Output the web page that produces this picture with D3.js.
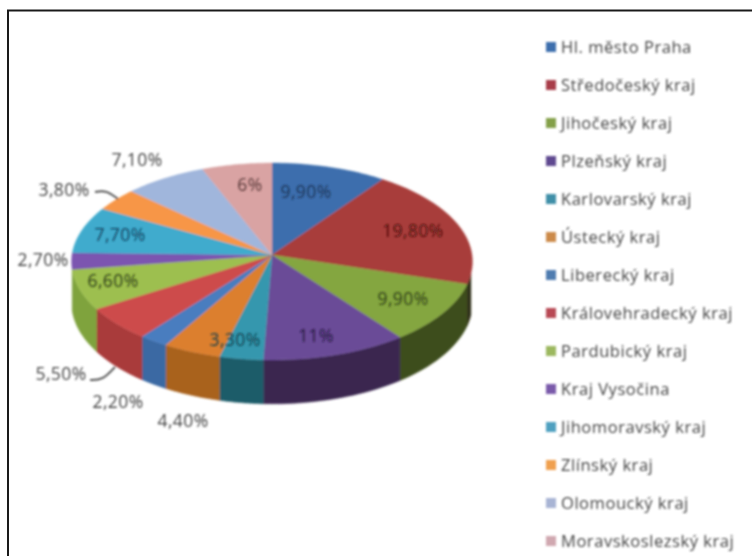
<!DOCTYPE html>
<html><head><meta charset="utf-8">
<script src="https://cdn.jsdelivr.net/npm/d3@7"></script>
<style>html,body{margin:0;padding:0;background:#fff;overflow:hidden}svg{display:block}text{font-family:"Open Sans",sans-serif}</style>
</head><body><svg id="c" width="752" height="556"></svg>
<script>
const categories=["Hl. město Praha","Středočeský kraj","Jihočeský kraj","Plzeňský kraj","Karlovarský kraj","Ústecký kraj","Liberecký kraj","Královehradecký kraj","Pardubický kraj","Kraj Vysočina","Jihomoravský kraj","Zlínský kraj","Olomoucký kraj","Moravskoslezský kraj"];
const values=[9.9,19.8,9.9,11,3.3,4.4,2.2,5.5,6.6,2.7,7.7,3.8,7.1,6];
const valueLabels=["9,90%","19,80%","9,90%","11%","3,30%","4,40%","2,20%","5,50%","6,60%","2,70%","7,70%","3,80%","7,10%","6%"];
const topColors=["#3c6ead","#a83c3a","#84a63f","#6a4b97","#3497ae","#dc7f2e","#4a7dbf","#cd4c4c","#9dbf4f","#7c55b0","#3fabcd","#f79646","#a0b6dc","#d9a3a3"];
const sideColors=["#2c5384","#33301a","#3e4d1f","#3a2750","#1f5b69","#a9621f","#3a69a3","#a93a3a","#7fa33d","#6a4696","#2f8aa8","#d07a30","#8396b6","#b58888"];
const legendColors=["#3c6ead","#a83c4a","#84a04a","#5f4a90","#3f8fa8","#cc8a4a","#4f7cb0","#b84a55","#9cb85f","#7a5aaa","#4fa0c0","#f0a050","#a8b4d4","#d0a8b0"];
const labelPos=[[306,198],[413,237],[403,305],[316,342],[235,346],[183,427],[118,408],[61,380],[113,287],[43,266],[120,241],[64,196],[137,166],[250,191]];
const leaders=[[[90,380],[103,380],[115,367]],[[95,192],[106,190],[118,199]]];

const svg=d3.select("#c");
const defs=svg.append("defs");
defs.append("filter").attr("id","soft").attr("filterUnits","userSpaceOnUse").attr("x",0).attr("y",0).attr("width",752).attr("height",556)
  .append("feGaussianBlur").attr("stdDeviation",0.8);

svg.append("rect").attr("x",8).attr("y",10.5).attr("width",760).attr("height",560).attr("fill","#fff").attr("stroke","#1a1a1a").attr("stroke-width",2);

const apex=[272,255],rx=200,ry=98,k=0.066,depth=41;
const project=(a,d=0)=>{const u=Math.sin(a),v=Math.cos(a),s=1/(1+k*v);
  return [apex[0]+rx*u*s,apex[1]-ry*v*s+d*s];};
const pie=d3.pie().sort(null)(values);
const arcAngles=(a0,a1)=>d3.range(0,25).map(i=>a0+(a1-a0)*i/24);
const line=d3.line();
const g=svg.append("g").attr("filter","url(#soft)");

const rimFrom=Math.PI*0.56,rimTo=pie[8].endAngle;
pie.forEach((p,i)=>{
  const a0=Math.max(p.startAngle,rimFrom),a1=Math.min(p.endAngle,rimTo);
  if(a1<=a0)return;
  const A=arcAngles(a0,a1);
  const pts=A.map(a=>project(a)).concat(A.slice().reverse().map(a=>project(a,depth)));
  g.append("path").attr("d",line(pts)+"Z").attr("fill",sideColors[i]).attr("stroke",sideColors[i]).attr("stroke-width",0.5);
});
pie.forEach((p,i)=>{
  const pts=[apex].concat(arcAngles(p.startAngle,p.endAngle).map(a=>project(a)));
  g.append("path").attr("d",line(pts)+"Z").attr("fill",topColors[i]).attr("stroke",topColors[i]).attr("stroke-width",0.4);
});
leaders.forEach(l=>g.append("path").attr("d",d3.line().curve(d3.curveBasis)(l)).attr("fill","none").attr("stroke","#555").attr("stroke-width",2));

const t=svg.append("g").attr("filter","url(#soft)");
const darkLabels={0:"#1d3557",1:"#4a1210",2:"#2f4015",3:"#24143d",4:"#123f4c",8:"#2f4015",10:"#123f5c",13:"#5a3a3a"};
valueLabels.forEach((s,i)=>{
  t.append("text").attr("x",labelPos[i][0]).attr("y",labelPos[i][1]).attr("text-anchor","middle")
   .attr("font-size",17.5).attr("letter-spacing",0.4).attr("fill",darkLabels[i]||"#444").text(s);
});
const legendY=d3.scalePoint().domain(categories).range([47,541]);
categories.forEach((c,i)=>{
  const y=legendY(c);
  t.append("rect").attr("x",546).attr("y",y-5).attr("width",10).attr("height",10).attr("fill",legendColors[i]);
  t.append("text").attr("x",561).attr("y",y+6).attr("font-size",16.5).attr("letter-spacing",0.55).attr("fill","#444").text(c);
});
</script></body></html>
